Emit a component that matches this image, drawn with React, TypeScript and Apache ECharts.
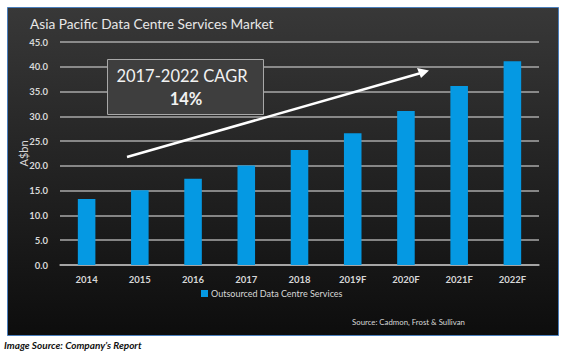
import React, { useEffect, useRef } from "react";
import * as echarts from "echarts";

const categories = ["2014", "2015", "2016", "2017", "2018", "2019F", "2020F", "2021F", "2022F"];
const values = [13.3, 15.1, 17.4, 20.1, 23.2, 26.6, 31.1, 36.1, 41.1];
const seriesName = "Outsourced Data Centre Services";
const titleText = "Asia Pacific Data Centre Services Market";
const cagrLine1 = "2017-2022 CAGR";
const cagrLine2 = "14%";
const sourceText = "Source: Cadmon, Frost & Sullivan";
const imageSource = "Image Source: Company\u2019s Report";

const FONT = "Lato, 'Noto Sans', sans-serif";

export default function App() {
  const ref = useRef<HTMLDivElement>(null);
  useEffect(() => {
    if (!ref.current) return;
    const chart = echarts.init(ref.current, undefined, { renderer: "svg" });
    chart.setOption({
      animation: false,
      backgroundColor: "#ffffff",
      textStyle: { fontFamily: FONT },
      grid: { left: 60, right: 26, top: 42, bottom: 88, containLabel: false },
      legend: {
        data: [seriesName],
        left: 196,
        top: 284,
        itemWidth: 7,
        itemHeight: 7,
        itemGap: 4,
        icon: "rect",
        textStyle: { color: "#d8d8d8", fontSize: 9, fontFamily: FONT, padding: [0, 0, 0, -2] },
      },
      xAxis: {
        type: "category",
        data: categories,
        axisLine: { show: true, lineStyle: { color: "#b0b0b0", width: 1.5 } },
        axisTick: { show: false },
        axisLabel: { color: "#d8d8d8", fontSize: 9.5, margin: 9, fontWeight: "bold" },
      },
      yAxis: {
        type: "value",
        min: 0,
        max: 45,
        interval: 5,
        name: "A$bn",
        nameLocation: "middle",
        nameGap: 31,
        nameMoveOverlap: false,
        nameRotate: 90,
        nameTextStyle: { color: "#d8d8d8", fontSize: 11 },
        axisLine: { show: false },
        axisTick: { show: false },
        axisLabel: {
          color: "#d8d8d8",
          fontSize: 9.5,
          margin: 12,
          fontWeight: "bold",
          formatter: (v: number) => v.toFixed(1),
        },
        splitLine: { show: true, lineStyle: { color: "#a8a8a8", width: 1.5 } },
      },
      series: [
        {
          name: seriesName,
          type: "bar",
          data: values,
          barWidth: "33%",
          itemStyle: { color: "#0599e3" },
          z: 3,
        },
      ],
      graphic: [
        {
          type: "rect",
          z: -10,
          silent: true,
          shape: { x: 7.5, y: 7.5, width: 551, height: 328 },
          style: {
            fill: new echarts.graphic.LinearGradient(0, 0, 0, 1, [
              { offset: 0, color: "#383838" },
              { offset: 1, color: "#0d0d0d" },
            ]),
            stroke: "#4a7ebb",
            lineWidth: 1,
          },
        },
        {
          type: "text",
          x: 30,
          y: 23,
          style: {
            text: titleText,
            fill: "#e8e8e8",
            fontSize: 13.7,
            fontFamily: FONT,
            verticalAlign: "middle",
          },
        },
        {
          type: "rect",
          z: 10,
          shape: { x: 107.5, y: 59.5, width: 156, height: 55 },
          style: { fill: "#3e3e3e", stroke: "#a8a8a8", lineWidth: 1 },
        },
        {
          type: "text",
          z: 11,
          x: 182,
          y: 76,
          style: {
            text: cagrLine1,
            fill: "#f2f2f2",
            fontSize: 16.5,
            fontFamily: FONT,
            align: "center",
            verticalAlign: "middle",
          },
        },
        {
          type: "text",
          z: 11,
          x: 186,
          y: 99,
          style: {
            text: cagrLine2,
            fill: "#f2f2f2",
            fontSize: 16.5,
            fontWeight: "bold",
            fontFamily: FONT,
            align: "center",
            verticalAlign: "middle",
          },
        },
        {
          type: "line",
          z: 10,
          shape: { x1: 127, y1: 157, x2: 421, y2: 73 },
          style: { stroke: "#ffffff", lineWidth: 2.5 },
        },
        {
          type: "polygon",
          z: 10,
          shape: { points: [[429, 70.5], [417, 68], [421, 78]] },
          style: { fill: "#ffffff" },
        },
        {
          type: "text",
          x: 352,
          y: 322,
          style: {
            text: sourceText,
            fill: "#d8d8d8",
            fontSize: 7.8,
            fontFamily: FONT,
            verticalAlign: "middle",
          },
        },
        {
          type: "text",
          x: 4,
          y: 345,
          style: {
            text: imageSource,
            fill: "#111111",
            fontSize: 10,
            fontStyle: "italic",
            fontWeight: "bold",
            fontFamily: FONT,
            verticalAlign: "middle",
          },
        },
      ],
    });
    return () => chart.dispose();
  }, []);
  return (
    <div
      ref={ref}
      style={{ position: "fixed", left: 0, top: 0, width: 565, height: 353 }}
    />
  );
}
